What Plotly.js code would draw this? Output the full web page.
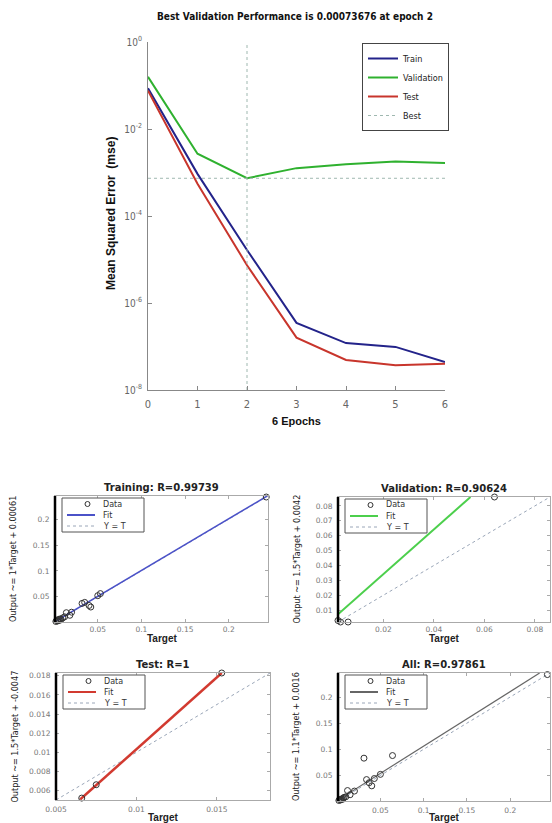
<!DOCTYPE html>
<html><head><meta charset="utf-8">
<script src="https://cdn.plot.ly/plotly-3.0.1.min.js"></script>
<style>html,body{margin:0;padding:0;background:#fff}#chart{width:552px;height:823px}</style>
</head><body><div id="chart"></div>
<script>
// ---------- Performance plot ----------
const epochs    = [0, 1, 2, 3, 4, 5, 6];
const trainPerf = [0.087, 9.3e-4, 1.66e-5, 3.5e-7, 1.2e-7, 9.8e-8, 4.4e-8];
const valPerf   = [0.158, 2.7e-3, 7.3676e-4, 1.26e-3, 1.55e-3, 1.78e-3, 1.66e-3];
const testPerf  = [0.076, 5.5e-4, 7.4e-6, 1.6e-7, 4.9e-8, 3.7e-8, 4.0e-8];
const bestEpoch = 2;
const bestPerf  = 7.3676e-4;
const perfYMin  = 1e-8;
const perfYMax  = 1;
const perfTickVals = [1, 1e-2, 1e-4, 1e-6, 1e-8];
const perfTickText = ['10<sup>0</sup>', '10<sup>-2</sup>', '10<sup>-4</sup>', '10<sup>-6</sup>', '10<sup>-8</sup>'];

// ---------- Regression plots ----------
const trainT = [0.002,0.003,0.004,0.005,0.006,0.007,0.008,0.010,0.012,0.014,0.018,0.020,0.032,0.035,0.040,0.042,0.050,0.053,0.243];
const trainY = [0.002,0.004,0.003,0.006,0.004,0.007,0.006,0.009,0.011,0.019,0.014,0.020,0.037,0.039,0.033,0.030,0.052,0.056,0.243];
const trainFitX = [0.001, 0.244];
const trainFitY = [0.0016, 0.245];
const trainRange = [0.001, 0.245];

const valT = [0.002, 0.003, 0.006, 0.064];
const valY = [0.003, 0.002, 0.002, 0.086];
const valFitX = [0.002, 0.0545];
const valFitY = [0.0072, 0.086];
const valRange = [0.002, 0.086];

const testT = [0.0066, 0.0075, 0.0153];
const testY = [0.0052, 0.0066, 0.0183];
const testFitX = [0.0065, 0.0153];
const testFitY = [0.00505, 0.0183];
const testRange = [0.005, 0.0183];

const allT = [0.002,0.003,0.004,0.005,0.006,0.007,0.008,0.010,0.012,0.015,0.020,0.031,0.034,0.037,0.040,0.043,0.050,0.064,0.243];
const allY = [0.002,0.004,0.003,0.005,0.004,0.006,0.008,0.009,0.021,0.013,0.020,0.083,0.042,0.036,0.030,0.044,0.052,0.088,0.243];
const allFitX = [0.001, 0.234];
const allFitY = [0.0027, 0.246];
const allRange = [0.001, 0.246];

// ---------- helpers ----------
const W = 552, H = 823;
const PX = p => p / W;
const PY = p => 1 - p / H;
const NARROW = '"Liberation Sans Narrow", "DejaVu Sans Condensed", Arial, sans-serif';
const SANS = '"Liberation Sans", Arial, sans-serif';
const DJ = '"DejaVu Sans", sans-serif';

const colTrain = '#23238a', colVal = '#2fb12f', colTest = '#c8352c';

const traces = [
  {x: epochs, y: trainPerf, type: 'scatter', mode: 'lines', name: 'Train', line: {color: colTrain, width: 2}, xaxis: 'x', yaxis: 'y'},
  {x: epochs, y: valPerf, type: 'scatter', mode: 'lines', name: 'Validation', line: {color: colVal, width: 2}, xaxis: 'x', yaxis: 'y'},
  {x: epochs, y: testPerf, type: 'scatter', mode: 'lines', name: 'Test', line: {color: colTest, width: 2}, xaxis: 'x', yaxis: 'y'},
  {x: [bestEpoch, bestEpoch, null, epochs[0], epochs[epochs.length - 1]],
   y: [perfYMin, perfYMax, null, bestPerf, bestPerf],
   type: 'scatter', mode: 'lines', name: 'Best', line: {color: '#9fb8b0', width: 1, dash: 'dot'}, xaxis: 'x', yaxis: 'y'}
];

const regs = [
  {t: trainT, y: trainY, fx: trainFitX, fy: trainFitY, r: trainRange, col: '#4b52c8', fw: 1.5, ax: '2'},
  {t: valT, y: valY, fx: valFitX, fy: valFitY, r: valRange, col: '#4ccf4c', fw: 2, ax: '3'},
  {t: testT, y: testY, fx: testFitX, fy: testFitY, r: testRange, col: '#d23a30', fw: 2.5, ax: '4'},
  {t: allT, y: allY, fx: allFitX, fy: allFitY, r: allRange, col: '#666666', fw: 1.2, ax: '5'}
];
regs.forEach(g => {
  traces.push({x: g.r, y: g.r, type: 'scatter', mode: 'lines', showlegend: false, hoverinfo: 'skip',
    line: {color: '#9aa6b8', width: 1, dash: 'dot'}, xaxis: 'x' + g.ax, yaxis: 'y' + g.ax});
  traces.push({x: g.fx, y: g.fy, type: 'scatter', mode: 'lines', showlegend: false,
    line: {color: g.col, width: g.fw}, xaxis: 'x' + g.ax, yaxis: 'y' + g.ax});
  traces.push({x: g.t, y: g.y, type: 'scatter', mode: 'markers', showlegend: false, cliponaxis: false,
    marker: {symbol: 'circle-open', size: 6, color: '#333', line: {width: 1, color: '#333'}},
    xaxis: 'x' + g.ax, yaxis: 'y' + g.ax});
});

const tickFontSmall = {family: DJ, size: 7.5, color: '#777'};
function regAxis(dom, range, dtick, tick0, anchor, standoff) {
  return {domain: dom, range: range, anchor: anchor, dtick: dtick, tick0: tick0,
    showline: true, linecolor: '#aaa', linewidth: 1, mirror: 'ticks', ticks: 'inside', ticklen: 3,
    tickcolor: '#aaa', showgrid: false, zeroline: false, tickfont: tickFontSmall, ticklabelstandoff: standoff, fixedrange: true};
}
// pixel boxes for the 4 regression panels: [left, right, top, bottom]
const boxes = {
  '2': [55, 268, 496, 622],
  '3': [338, 550, 497, 622],
  '4': [56, 270, 673, 800],
  '5': [338, 550, 673, 801]
};
const dom = k => ({x: [PX(boxes[k][0]), PX(boxes[k][1])], y: [PY(boxes[k][3]), PY(boxes[k][2])]});

function ann(text, x, y, font, extra) {
  return Object.assign({text: text, x: PX(x), y: PY(y), xref: 'paper', yref: 'paper',
    xanchor: 'center', yanchor: 'middle', showarrow: false, font: font}, extra || {});
}

const layout = {
  width: W, height: H, margin: {l: 0, r: 0, t: 0, b: 0},
  paper_bgcolor: '#fff', plot_bgcolor: '#fff',
  showlegend: true,
  legend: {x: PX(362), y: PY(43), xanchor: 'left', yanchor: 'top', bgcolor: '#fff',
    bordercolor: '#444', borderwidth: 1, font: {family: NARROW, size: 9, color: '#222'},
    itemwidth: 30, tracegroupgap: 0},
  xaxis: {domain: [PX(148), PX(445)], range: [0, 6], anchor: 'y', dtick: 1, showline: true, linecolor: '#888',
    ticks: 'inside', ticklen: 4, tickcolor: '#888', showgrid: false, zeroline: false,
    tickfont: {family: NARROW, size: 11, color: '#666'}, ticklabelstandoff: 4},
  yaxis: {domain: [PY(390), PY(42)], type: 'log', range: [Math.log10(perfYMin), Math.log10(perfYMax)], anchor: 'x',
    tickvals: perfTickVals, ticktext: perfTickText, showline: true, linecolor: '#888',
    ticks: 'inside', ticklen: 4, tickcolor: '#888', showgrid: false, zeroline: false,
    tickfont: {family: NARROW, size: 10, color: '#666'}, ticklabelstandoff: 3},
  xaxis2: regAxis(dom('2').x, trainRange, 0.05, 0, 'y2', 0),
  yaxis2: regAxis(dom('2').y, trainRange, 0.05, 0, 'x2', 3),
  xaxis3: regAxis(dom('3').x, valRange, 0.02, 0, 'y3', 0),
  yaxis3: regAxis(dom('3').y, valRange, 0.01, 0, 'x3', 3),
  xaxis4: regAxis(dom('4').x, testRange, 0.005, 0, 'y4', 2),
  yaxis4: regAxis(dom('4').y, testRange, 0.002, 0, 'x4', 3),
  xaxis5: regAxis(dom('5').x, allRange, 0.05, 0, 'y5', 2),
  yaxis5: regAxis(dom('5').y, allRange, 0.05, 0, 'x5', 3),
  shapes: [
    {type: 'circle', xref: 'x', yref: 'y', xsizemode: 'pixel', ysizemode: 'pixel',
     xanchor: bestEpoch, yanchor: Math.log10(bestPerf), x0: -7, x1: 7, y0: -11, y1: 11,
     line: {color: '#2f6e35', width: 1.5}}
  ],
  annotations: [
    ann('Best Validation Performance is 0.00073676 at epoch 2', 295, 16, {family: NARROW, size: 10, color: '#111', weight: 'bold'}),
    ann('Mean Squared Error  (mse)', 111, 214, {family: SANS, size: 12, color: '#111', weight: 'bold'}, {textangle: -90}),
    ann('6 Epochs', 296, 421, {family: SANS, size: 11, color: '#111', weight: 'bold'})
  ]
};

const panelText = {
  '2': {title: 'Training: R=0.99739', ylab: 'Output ~= 1*Target + 0.00061', tgt: 16},
  '3': {title: 'Validation: R=0.90624', ylab: 'Output ~= 1.5*Target + 0.0042', tgt: 16},
  '4': {title: 'Test: R=1', ylab: 'Output ~= 1.5*Target + -0.0047', tgt: 17},
  '5': {title: 'All: R=0.97861', ylab: 'Output ~= 1.1*Target + 0.0016', tgt: 16}
};
const fitCols = {'2': '#4b52c8', '3': '#4ccf4c', '4': '#d23a30', '5': '#666666'};
Object.keys(boxes).forEach(k => {
  const [l, r, t, b] = boxes[k];
  const cx = (l + r) / 2, cy = (t + b) / 2;
  layout.shapes.push({type: 'line', xref: 'x' + k + ' domain', yref: 'y' + k + ' domain', x0: 0, x1: 0, y0: 0, y1: 1,
    line: {color: '#000', width: 2.5}});
  layout.annotations.push(ann(panelText[k].title, cx, t - 9, {family: DJ, size: 10, color: '#222', weight: 'bold'}));
  layout.annotations.push(ann('Target', cx, b + panelText[k].tgt, {family: SANS, size: 10, color: '#222', weight: 'bold'}));
  layout.annotations.push(ann(panelText[k].ylab, l - 42, cy, {family: NARROW, size: 9, color: '#222'}, {textangle: -90}));
  // legend box drawn by hand (compact MATLAB style)
  const bx0 = l + 7, bx1 = l + 89, by0 = t + 2, by1 = t + 36;
  layout.shapes.push({type: 'rect', xref: 'paper', yref: 'paper', x0: PX(bx0), x1: PX(bx1), y0: PY(by1), y1: PY(by0),
    line: {color: '#555', width: 1}, fillcolor: '#fff'});
  const rows = [t + 8, t + 19, t + 30];
  layout.shapes.push({type: 'circle', xref: 'paper', yref: 'paper', x0: PX(l + 30), x1: PX(l + 35),
    y0: PY(rows[0] + 2.5), y1: PY(rows[0] - 2.5), line: {color: '#333', width: 1}});
  layout.shapes.push({type: 'line', xref: 'paper', yref: 'paper', x0: PX(l + 12), x1: PX(l + 40),
    y0: PY(rows[1]), y1: PY(rows[1]), line: {color: fitCols[k], width: 2}});
  layout.shapes.push({type: 'line', xref: 'paper', yref: 'paper', x0: PX(l + 12), x1: PX(l + 40),
    y0: PY(rows[2]), y1: PY(rows[2]), line: {color: '#9aa6b8', width: 1, dash: 'dot'}});
  ['Data', 'Fit', 'Y = T'].forEach((s, i) => {
    layout.annotations.push(ann(s, l + 46, rows[i], {family: DJ, size: 8, color: '#333'}, {xanchor: 'left'}));
  });
});

Plotly.newPlot('chart', traces, layout, {staticPlot: true, displayModeBar: false});
</script>
</body></html>
